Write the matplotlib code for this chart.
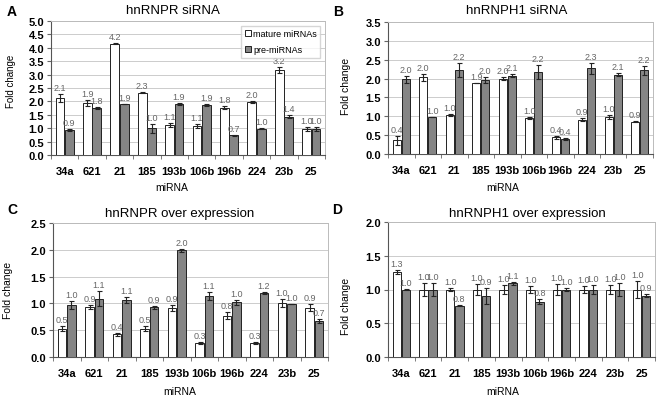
import numpy as np
import matplotlib.pyplot as plt

plt.rcParams['font.family'] = ['Liberation Sans', 'DejaVu Sans']

mirnas = ['34a', '621', '21', '185', '193b', '106b', '196b', '224', '23b', '25']

# panel A: hnRNPR siRNA
a_mature = [2.12, 1.93, 4.16, 2.33, 1.12, 1.08, 1.76, 1.98, 3.17, 0.98]
a_mature_err = [0.15, 0.12, 0.03, 0.02, 0.07, 0.09, 0.06, 0.05, 0.12, 0.08]
a_pre = [0.93, 1.76, 1.91, 1.0, 1.9, 1.87, 0.73, 0.98, 1.43, 0.98]
a_pre_err = [0.04, 0.03, 0.0, 0.17, 0.05, 0.03, 0.02, 0.01, 0.05, 0.07]

# panel B: hnRNPH1 siRNA
b_mature = [0.37, 2.03, 1.03, 1.88, 2.0, 0.96, 0.44, 0.91, 0.98, 0.86]
b_mature_err = [0.12, 0.1, 0.03, 0.0, 0.04, 0.03, 0.03, 0.04, 0.05, 0.01]
b_pre = [1.98, 0.98, 2.23, 1.96, 2.07, 2.17, 0.4, 2.27, 2.1, 2.22]
b_pre_err = [0.1, 0.01, 0.18, 0.08, 0.04, 0.18, 0.02, 0.14, 0.04, 0.12]

# panel C: hnRNPR over expression
c_mature = [0.53, 0.93, 0.42, 0.53, 0.91, 0.26, 0.77, 0.26, 1.01, 0.92]
c_mature_err = [0.05, 0.04, 0.03, 0.05, 0.06, 0.02, 0.07, 0.02, 0.07, 0.07]
c_pre = [0.97, 1.09, 1.06, 0.93, 1.99, 1.14, 1.02, 1.19, 0.99, 0.67]
c_pre_err = [0.07, 0.14, 0.06, 0.03, 0.03, 0.07, 0.05, 0.02, 0.0, 0.03]

# panel D: hnRNPH1 over expression
d_mature = [1.26, 1.0, 1.0, 1.0, 1.0, 1.0, 1.0, 1.0, 1.0, 1.0]
d_mature_err = [0.03, 0.1, 0.02, 0.08, 0.06, 0.05, 0.08, 0.05, 0.06, 0.13]
d_pre = [1.0, 1.0, 0.76, 0.9, 1.09, 0.82, 1.0, 1.0, 1.0, 0.91]
d_pre_err = [0.01, 0.1, 0.01, 0.12, 0.02, 0.04, 0.02, 0.06, 0.1, 0.02]

W, H = 661, 402


def px_axes(fig, left, top, right, bottom):
    return fig.add_axes([left / W, 1 - bottom / H, (right - left) / W, (bottom - top) / H])


def ftext(fig, x, y, s, **kw):
    fig.text(x / W, 1 - y / H, s, ha='center', va='center', **kw)


def panel(ax, mature, mature_err, pre, pre_err, ymax, legend=False):
    x = np.arange(len(mirnas))
    w = 0.32
    ekw = dict(elinewidth=0.8, capsize=1.8, capthick=0.8, ecolor='#222222')
    ax.bar(x - 0.17, mature, w, yerr=mature_err, color='white', edgecolor='#222222',
           linewidth=0.7, error_kw=ekw, label='mature miRNAs', zorder=3)
    ax.bar(x + 0.17, pre, w, yerr=pre_err, color='#858585', edgecolor='#222222',
           linewidth=0.7, error_kw=ekw, label='pre-miRNAs', zorder=3)
    for xi, v, e in zip(x - 0.17, mature, mature_err):
        ax.text(xi, v + e + ymax * 0.015, f'{v:.1f}', ha='center', va='bottom',
                fontsize=6.5, color='#666666')
    for xi, v, e in zip(x + 0.17, pre, pre_err):
        ax.text(xi, v + e + ymax * 0.015, f'{v:.1f}', ha='center', va='bottom',
                fontsize=6.5, color='#666666')
    ax.set_xlim(-0.5, len(mirnas) - 0.5)
    ax.set_ylim(0, ymax)
    ax.set_yticks(np.arange(0, ymax + 0.01, 0.5))
    ax.set_yticklabels([f'{t:.1f}' for t in np.arange(0, ymax + 0.01, 0.5)],
                       fontsize=8, fontweight='bold')
    ax.set_xticks(x)
    ax.set_xticklabels(mirnas, fontsize=8, fontweight='bold')
    ax.set_xticks(np.arange(-0.5, len(mirnas)), minor=True)
    ax.tick_params(axis='x', which='major', length=0, pad=8)
    ax.tick_params(axis='x', which='minor', length=3, color='#666666')
    ax.tick_params(axis='y', length=3, color='#666666', pad=2)
    ax.yaxis.grid(True, color='#cccccc', linewidth=0.7, zorder=0)
    for s in ['top', 'right']:
        ax.spines[s].set_color('#bbbbbb')
        ax.spines[s].set_linewidth(0.7)
    for s in ['left', 'bottom']:
        ax.spines[s].set_color('#555555')
        ax.spines[s].set_linewidth(0.8)
    if legend:
        ax.legend(loc='upper right', fontsize=6.5, frameon=True, fancybox=False,
                  edgecolor='#cccccc', handlelength=0.7, handleheight=0.7,
                  handletextpad=0.2, borderpad=0.4, labelspacing=0.8,
                  bbox_to_anchor=(1.0, 1.0))


fig = plt.figure(figsize=(W / 100, H / 100), dpi=100)

axA = px_axes(fig, 51, 22, 325, 156)
panel(axA, a_mature, a_mature_err, a_pre, a_pre_err, 5.0, legend=True)
axB = px_axes(fig, 388, 23, 653, 155)
panel(axB, b_mature, b_mature_err, b_pre, b_pre_err, 3.5)
axC = px_axes(fig, 53, 224, 328, 358)
panel(axC, c_mature, c_mature_err, c_pre, c_pre_err, 2.5)
axD = px_axes(fig, 388, 223, 655, 358)
panel(axD, d_mature, d_mature_err, d_pre, d_pre_err, 2.0)

# titles, panel letters, axis labels
ftext(fig, 173, 11, 'hnRNPR siRNA', fontsize=9.5)
ftext(fig, 517, 11, 'hnRNPH1 siRNA', fontsize=9.5)
ftext(fig, 180, 214, 'hnRNPR over expression', fontsize=9.5)
ftext(fig, 527, 214, 'hnRNPH1 over expression', fontsize=9.5)
ftext(fig, 12, 12, 'A', fontsize=10, fontweight='bold')
ftext(fig, 338, 12, 'B', fontsize=10, fontweight='bold')
ftext(fig, 12, 210, 'C', fontsize=10, fontweight='bold')
ftext(fig, 337, 210, 'D', fontsize=10, fontweight='bold')
for xx, yy, fs in [(11, 81, 7), (346, 86, 7.5), (8, 290, 7.5), (346, 306, 7.5)]:
    ftext(fig, xx, yy, 'Fold change', fontsize=fs, rotation=90)
for xx, yy in [(172, 188), (503, 188), (180, 392), (503, 392)]:
    ftext(fig, xx, yy, 'miRNA', fontsize=7.5)

fig.savefig('out.png', dpi=100)
